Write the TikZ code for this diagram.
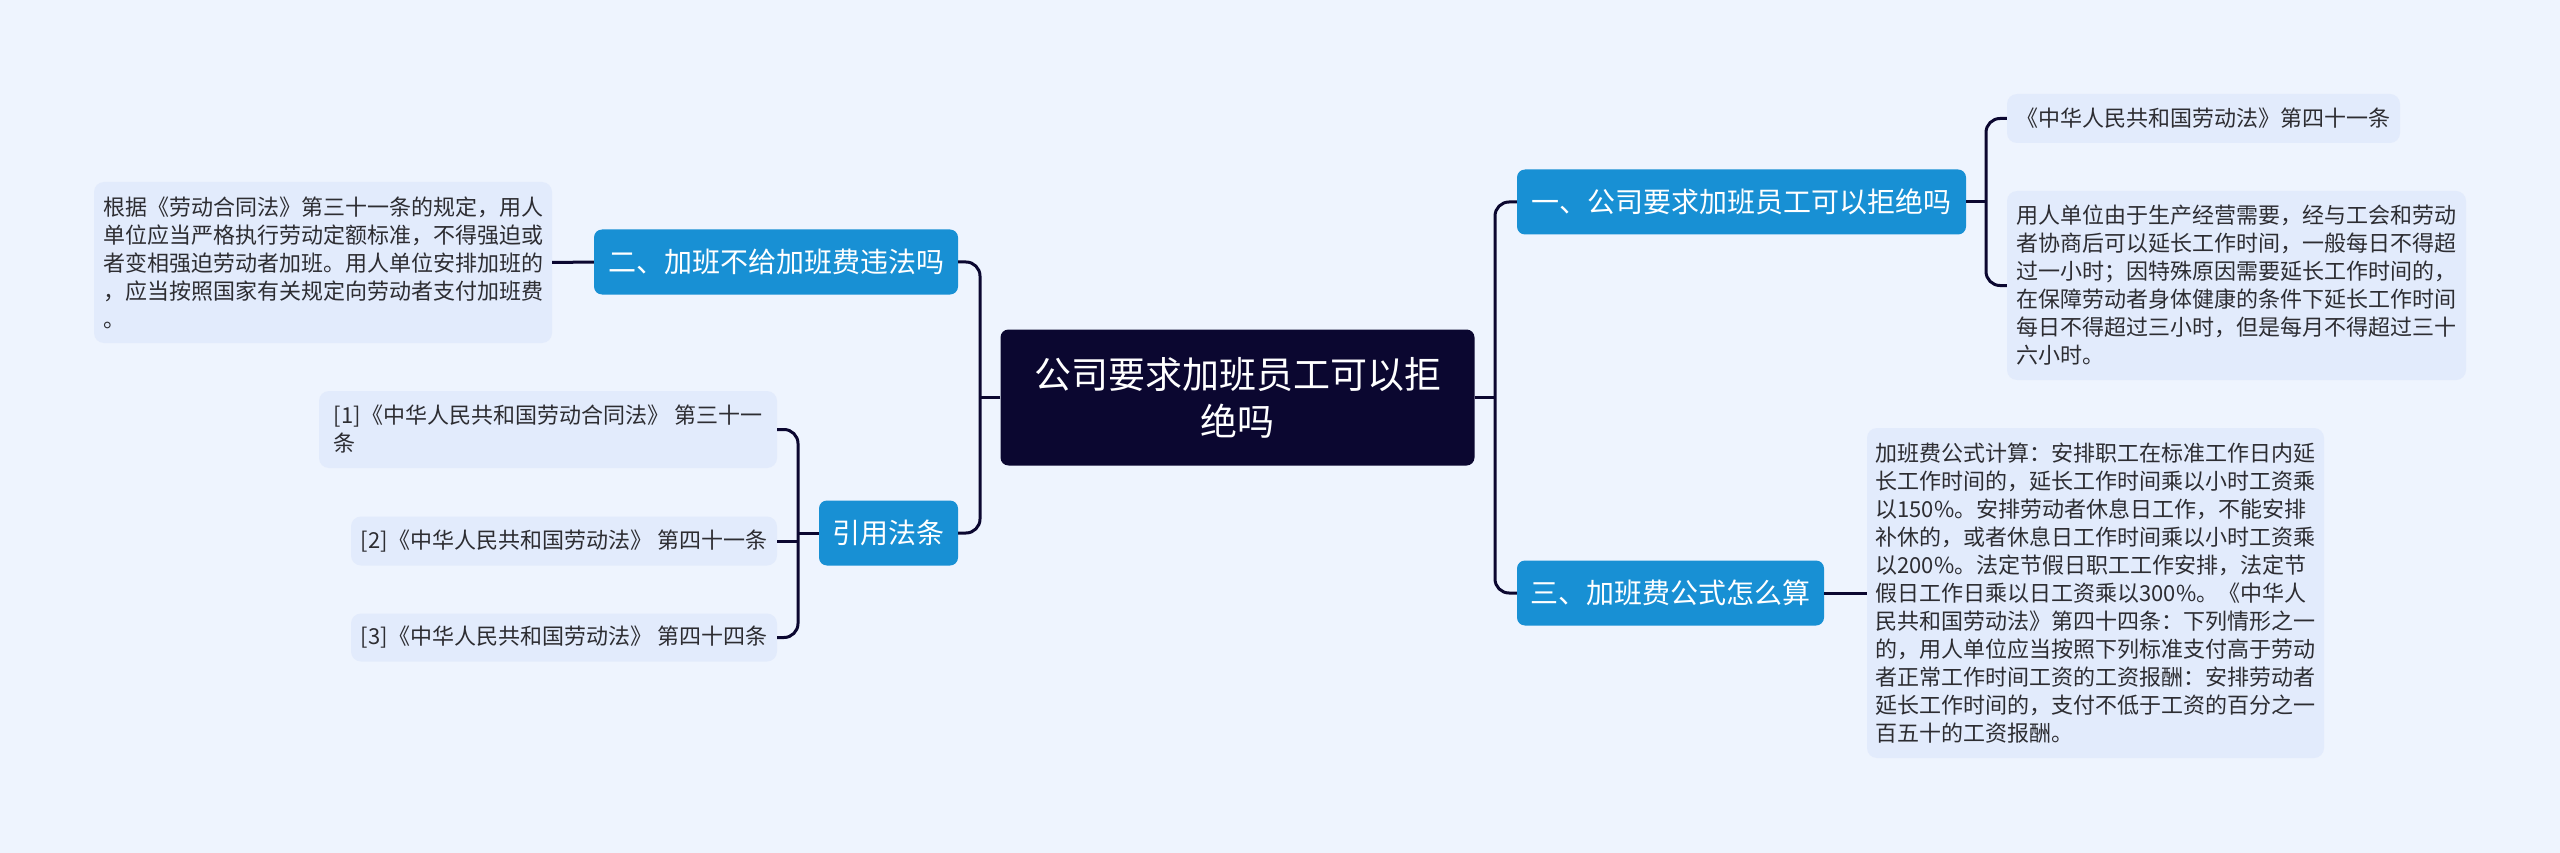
\documentclass[tikz,border=0pt]{standalone}
\usepackage{fontspec}
\newfontfamily\cjk{Noto Sans CJK SC}
\usetikzlibrary{calc, positioning}
\definecolor{canvas}{RGB}{238, 244, 254}
\definecolor{rootfill}{RGB}{11, 7, 48}
\definecolor{branchfill}{RGB}{24, 144, 212}
\definecolor{leaffill}{RGB}{226, 235, 252}
\definecolor{leaftext}{RGB}{45, 45, 50}

\begin{document}
\begin{tikzpicture}[
	x=1pt, y=-1pt,
	font=\cjk,
	% Styles for the topic boxes
	rootbox/.style={fill=rootfill, text=white, rounded corners=8pt, align=center, inner sep=0pt, font=\cjk\fontsize{37}{47}\selectfont},
	branchbox/.style={fill=branchfill, text=white, rounded corners=8pt, align=center, inner sep=0pt, minimum height=65pt, font=\cjk\fontsize{28}{34}\selectfont},
	leafbox/.style={fill=leaffill, text=leaftext, rounded corners=10pt, align=left, inner sep=0pt, font=\cjk\fontsize{22}{28}\selectfont},
	% Style for the connectors
	link/.style={draw=rootfill, line width=3pt, rounded corners=14pt}
	]
	
	\fill[canvas] (0, 0) rectangle (2560, 853);
	
	% ==========================================
	% CENTRAL TOPIC
	% ==========================================
	\node[rootbox, minimum width=474pt, minimum height=136pt] (root) at (1237.5, 397.5) {公司要求加班员工可以拒\\绝吗};
	
	% ==========================================
	% RIGHT BRANCHES
	% ==========================================
	\node[branchbox, minimum width=449pt] (b1) at (1741.5, 202) {一、公司要求加班员工可以拒绝吗};
	\node[branchbox, minimum width=307pt] (b3) at (1670.5, 593) {三、加班费公式怎么算};
	
	\node[leafbox, minimum width=393pt, minimum height=49pt] (l1a) at (2203.5, 118.5) {《中华人民共和国劳动法》第四十一条};
	\node[leafbox, minimum width=459pt, minimum height=189pt] (l1b) at (2236.5, 285.5) {用人单位由于生产经营需要，经与工会和劳动\\者协商后可以延长工作时间，一般每日不得超\\过一小时；因特殊原因需要延长工作时间的，\\在保障劳动者身体健康的条件下延长工作时间\\每日不得超过三小时，但是每月不得超过三十\\六小时。};
	\node[leafbox, minimum width=457pt, minimum height=330pt] (l3) at (2095.5, 593) {加班费公式计算：安排职工在标准工作日内延\\长工作时间的，延长工作时间乘以小时工资乘\\以150\%。安排劳动者休息日工作，不能安排\\补休的，或者休息日工作时间乘以小时工资乘\\以200\%。法定节假日职工工作安排，法定节\\假日工作日乘以日工资乘以300\%。《中华人\\民共和国劳动法》第四十四条：下列情形之一\\的，用人单位应当按照下列标准支付高于劳动\\者正常工作时间工资的工资报酬：安排劳动者\\延长工作时间的，支付不低于工资的百分之一\\百五十的工资报酬。};
	
	% ==========================================
	% LEFT BRANCHES
	% ==========================================
	\node[branchbox, minimum width=364pt] (b2) at (776, 262) {二、加班不给加班费违法吗};
	\node[branchbox, minimum width=139pt] (bref) at (888.5, 533) {引用法条};
	
	\node[leafbox, minimum width=458pt, minimum height=161pt] (l2) at (323, 262.5) {根据《劳动合同法》第三十一条的规定，用人\\单位应当严格执行劳动定额标准，不得强迫或\\者变相强迫劳动者加班。用人单位安排加班的\\，应当按照国家有关规定向劳动者支付加班费\\。};
	
	\node[leafbox, minimum width=458pt, minimum height=77pt] (r1) at (548, 429.5) {[1]《中华人民共和国劳动合同法》 第三十一\\条};
	\node[leafbox, minimum width=426pt, minimum height=49pt] (r2) at (564, 541) {[2]《中华人民共和国劳动法》 第四十一条};
	\node[leafbox, minimum width=426pt, minimum height=48pt] (r3) at (564, 637.5) {[3]《中华人民共和国劳动法》 第四十四条};
	
	% ==========================================
	% CONNECTORS
	% ==========================================
	% right side
	\coordinate (rhub) at (1495, 397.5);
	\draw[link] (root.east) -- (rhub);
	\draw[link] (b1.west) -| (rhub) |- (b3.west);
	
	\coordinate (hub1) at (1986, 202);
	\draw[link] (b1.east) -- (hub1);
	\draw[link] (l1a.west) -| (hub1) |- (l1b.west);
	
	\draw[link] (b3.east) -- (l3.west);
	
	% left side
	\coordinate (lhub) at (980, 397.5);
	\draw[link] (root.west) -- (lhub);
	\draw[link] (b2.east) -| (lhub) |- (bref.east);
	
	\draw[link] (b2.west) -- (l2.east);
	
	\coordinate (refhub) at (798, 533);
	\draw[link] (bref.west) -- (refhub);
	\draw[link] (r1.east) -| (refhub) |- (r3.east);
	\draw[link] (r2.east) -- (r2.east -| refhub);
	
\end{tikzpicture}
\end{document}
